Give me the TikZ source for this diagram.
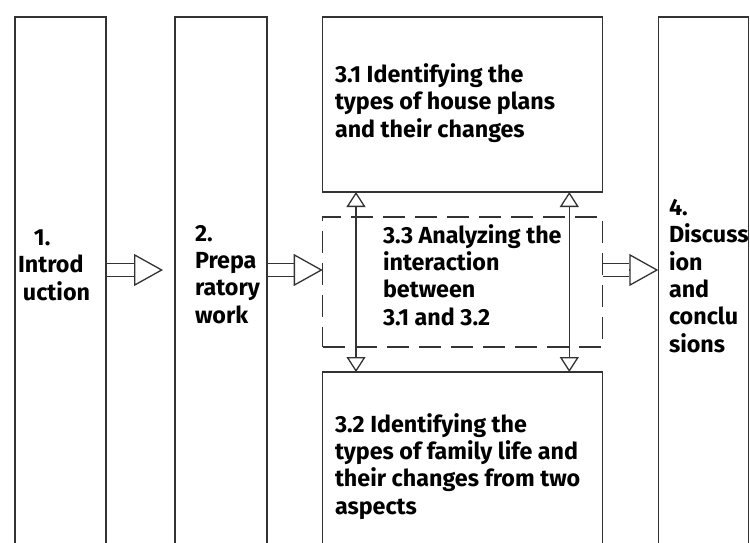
\documentclass[tikz,border=0pt]{standalone}
\usepackage{fontspec}
\setmainfont{Fira Sans}
\usepackage{tikz}
\usetikzlibrary{arrows.meta}
\usetikzlibrary{positioning}
\usetikzlibrary{calc}

\definecolor{edge}{HTML}{333333}

\begin{document}
\begin{tikzpicture}[x=1pt, y=-1pt, line width=1.3pt,
    every node/.style={inner sep=0pt, outer sep=0pt},
    stage/.style={rectangle, draw=edge, anchor=north west},
    dashbox/.style={dash pattern=on 22pt off 10pt},
    words/.style={anchor=base west, align=left, font=\bfseries\fontsize{23.3}{27.3}\selectfont},
    shaft/.style={draw=edge, double=white, double distance=12pt},
    bighead/.style={-{Triangle[open, length=29pt, width=32pt]}, draw=edge},
    bothheads/.style={{Triangle[open, length=15pt, width=19pt]}-{Triangle[open, length=15pt, width=19pt]}, draw=edge}]
        % Define the top of the columns and the height of the arrows
        \def\ytop{17}
        \def\ymid{270}

        \clip (0,0) rectangle (750,543);

        % Draw the columns and the three boxes of step 3
        \node[stage, minimum width=91, minimum height=540] (intro) at (15,\ytop) {};
        \node[stage, minimum width=92, minimum height=540] (prep) at (175,\ytop) {};
        \node[stage, minimum width=280, minimum height=175] (house) at (322.7,\ytop) {};
        \node[stage, dashbox, minimum width=280, minimum height=130] (inter) at (322.7,217) {};
        \node[stage, minimum width=280, minimum height=190] (family) at (322.7,372) {};
        \node[stage, minimum width=90, minimum height=540] (concl) at (658.3,\ytop) {};

        % Put the texts into the boxes (the anchor is the last baseline)
        \node[words] (t1) at (18,300) {\hspace*{16pt}1.\\Introd\\\hspace*{5pt}uction};
        \node[words] (t2) at (195,323) {2.\\Prepa\\ratory\\work};
        \node[words] (t31) at (335,137) {3.1 Identifying the\\types of house plans\\and their changes};
        \node[words] (t33) at (383,325) {3.3 Analyzing the\\interaction\\between\\3.1 and 3.2};
        \node[words] (t32) at (335,514) {3.2 Identifying the\\types of family life and\\their changes from two\\aspects};
        \node[words] (t4) at (669,352) {4.\\Discuss\\ion\\and\\conclu\\sions};

        % Draw the hollow arrows between the columns
        \foreach \a/\b/\gap in {intro/prep/12, prep/inter/0, inter/concl/0}
        {
          \coordinate (tip) at ($(\b.west |- 0,\ymid)+(-\gap,0)$);
          \coordinate (base) at ($(tip)+(-29,0)$);
          \draw[shaft, shorten <=0.7pt] (\a.east |- 0,\ymid) -- (base);
          \draw[bighead] (base) -- (tip);
        }

        % Draw the links between 3.1 and 3.2
        \foreach \x in {356, 569.3}
          \draw[bothheads] (house.south -| \x,0) -- (family.north -| \x,0);
      \end{tikzpicture}
\end{document}
